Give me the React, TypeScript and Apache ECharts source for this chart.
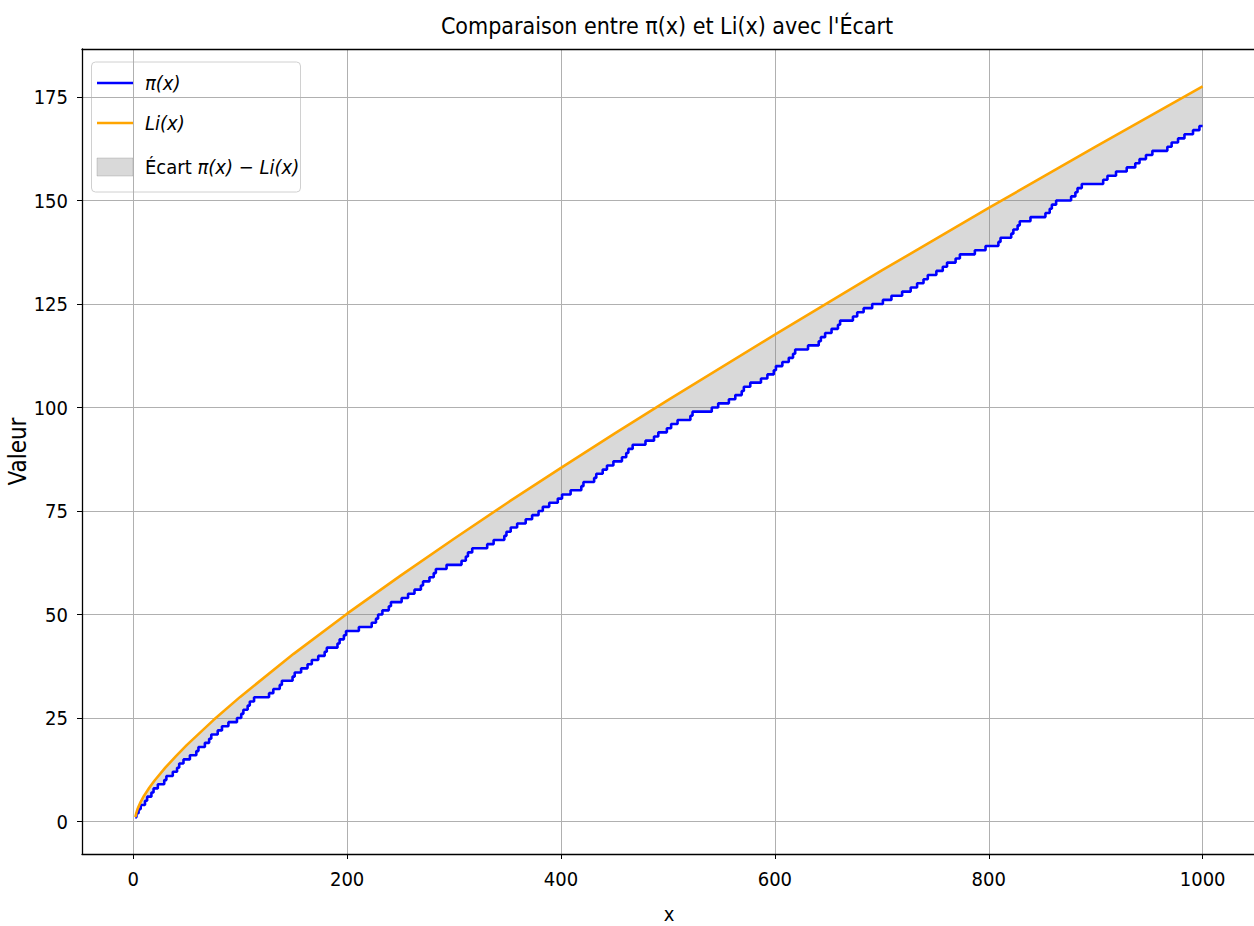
import React, { useEffect, useRef } from "react";
import * as echarts from "echarts";

// Prime numbers up to 1000 — each one is a unit step of π(x)
const PRIMES: number[] = [
  2, 3, 5, 7, 11, 13, 17, 19, 23, 29, 31, 37, 41, 43, 47, 53, 59, 61, 67, 71, 73, 79, 83, 89, 97,
  101, 103, 107, 109, 113, 127, 131, 137, 139, 149, 151, 157, 163, 167, 173, 179, 181, 191, 193, 197, 199,
  211, 223, 227, 229, 233, 239, 241, 251, 257, 263, 269, 271, 277, 281, 283, 293,
  307, 311, 313, 317, 331, 337, 347, 349, 353, 359, 367, 373, 379, 383, 389, 397,
  401, 409, 419, 421, 431, 433, 439, 443, 449, 457, 461, 463, 467, 479, 487, 491, 499,
  503, 509, 521, 523, 541, 547, 557, 563, 569, 571, 577, 587, 593, 599,
  601, 607, 613, 617, 619, 631, 641, 643, 647, 653, 659, 661, 673, 677, 683, 691,
  701, 709, 719, 727, 733, 739, 743, 751, 757, 761, 769, 773, 787, 797,
  809, 811, 821, 823, 827, 829, 839, 853, 857, 859, 863, 877, 881, 883, 887,
  907, 911, 919, 929, 937, 941, 947, 953, 967, 971, 977, 983, 991, 997,
];
const X_END = 1000;

// Li(x)
const LI_X: number[] = [2, 3, 4, 5, 7, 10, 15, 20, 30, 40, 50, 75, 100, 150, 200, 250, 300, 350, 400, 450, 500, 600, 700, 800, 900, 1000];
const LI_Y: number[] = [1.05, 2.16, 2.97, 3.63, 4.76, 6.17, 8.16, 9.9, 13.0, 15.8, 18.45, 24.5, 30.1, 40.5, 50.2, 59.4, 68.3, 77.0, 85.4, 93.7, 101.8, 117.6, 133.1, 148.2, 163.0, 177.6];

const X_TICKS: number[] = [0, 200, 400, 600, 800, 1000];
const Y_TICKS: number[] = [0, 25, 50, 75, 100, 125, 150, 175];

const TITLE = "Comparaison entre π(x) et Li(x) avec l'Écart";
const X_NAME = "x";
const Y_NAME = "Valeur";
const PI_NAME = "π(x)";
const LI_NAME = "Li(x)";
const GAP_NAME = "Écart π(x) − Li(x)";

const FONT = "'DejaVu Sans Condensed', 'DejaVu Sans', sans-serif";

export default function App() {
  const ref = useRef<HTMLDivElement>(null);

  useEffect(() => {
    if (!ref.current) return;
    const chart = echarts.init(ref.current, undefined, { renderer: "svg" });

    const piData: number[][] = PRIMES.map((p, i) => [p, i + 1]);
    piData.push([X_END, PRIMES.length]);
    const liData: number[][] = LI_X.map((x, i) => [x, LI_Y[i]]);

    const option: any = {
      animation: false,
      backgroundColor: "#ffffff",
      textStyle: { fontFamily: FONT },
      title: {
        text: TITLE,
        left: 662,
        top: 9,
        textAlign: "center",
        textStyle: { fontFamily: FONT, fontSize: 23, fontWeight: "normal", color: "#000" },
      },
      grid: { left: 82, top: 49, width: 1174, height: 805, containLabel: false, outerBoundsMode: "none" },
      xAxis: [
        {
          type: "value",
          min: -47.9,
          max: 1049.9,
          name: X_NAME,
          nameLocation: "middle",
          nameGap: 50,
          nameTextStyle: { fontFamily: FONT, fontSize: 20, color: "#000" },
          axisLine: { show: true, onZero: false, lineStyle: { color: "#000", width: 1.3 } },
          axisTick: { show: true, length: 5, lineStyle: { color: "#000", width: 1 }, customValues: X_TICKS },
          axisLabel: { fontFamily: FONT, fontSize: 20, color: "#000", margin: 15, customValues: X_TICKS, formatter: (v: number) => String(v) },
          splitLine: { show: true, lineStyle: { color: "#b0b0b0", width: 1 } },
        },
        {
          type: "value",
          position: "top",
          min: -47.9,
          max: 1049.9,
          axisLine: { show: true, onZero: false, lineStyle: { color: "#000", width: 1.3 } },
          axisTick: { show: false },
          axisLabel: { show: false },
          splitLine: { show: false },
        },
      ],
      yAxis: {
        type: "value",
        min: -7.85,
        max: 186.6,
        name: Y_NAME,
        nameLocation: "middle",
        nameGap: 52,
        nameMoveOverlap: false,
        nameTextStyle: { fontFamily: FONT, fontSize: 24, color: "#000" },
        axisLine: { show: true, onZero: false, lineStyle: { color: "#000", width: 1.3 } },
        axisTick: { show: true, length: 5, lineStyle: { color: "#000", width: 1 }, customValues: Y_TICKS },
        axisLabel: { fontFamily: FONT, fontSize: 20, color: "#000", margin: 14, customValues: Y_TICKS, formatter: (v: number) => String(v) },
        splitLine: { show: true, lineStyle: { color: "#b0b0b0", width: 1 } },
      },
      series: [
        {
          name: GAP_NAME,
          type: "custom",
          clip: true,
          z: 1,
          data: [[LI_X[0], LI_Y[0]]],
          renderItem: (_params: any, api: any) => {
            const pts: number[][] = [];
            liData.forEach((d) => pts.push(api.coord(d)));
            for (let i = piData.length - 1; i >= 0; i--) {
              const [x, y] = piData[i];
              const prevX = i > 0 ? piData[i - 1][0] : x;
              pts.push(api.coord([x, y]));
              if (i > 0 && i < piData.length - 1) pts.push(api.coord([x, piData[i - 1][1]]));
              if (i > 0) pts.push(api.coord([prevX, piData[i - 1][1]]));
            }
            return {
              type: "polygon",
              shape: { points: pts },
              style: { fill: "rgba(128,128,128,0.3)", stroke: "none" },
            };
          },
        },
        {
          name: PI_NAME,
          type: "line",
          step: "end",
          data: piData,
          symbol: "none",
          z: 3,
          lineStyle: { color: "#0000ff", width: 2.6 },
          itemStyle: { color: "#0000ff" },
        },
        {
          name: LI_NAME,
          type: "line",
          data: liData,
          symbol: "none",
          z: 4,
          lineStyle: { color: "#ffa500", width: 2.6 },
          itemStyle: { color: "#ffa500" },
        },
      ],
      graphic: [
        {
          type: "group",
          z: 100,
          children: [
            {
              type: "rect",
              shape: { x: 91.5, y: 62, width: 209, height: 130, r: 4 },
              style: { fill: "rgba(255,255,255,0.8)", stroke: "#d0d0d0", lineWidth: 1 },
            },
            { type: "line", shape: { x1: 97, y1: 83, x2: 133, y2: 83 }, style: { stroke: "#0000ff", lineWidth: 2.6 } },
            { type: "line", shape: { x1: 97, y1: 123, x2: 133, y2: 123 }, style: { stroke: "#ffa500", lineWidth: 2.6 } },
            {
              type: "rect",
              shape: { x: 97, y: 158, width: 36, height: 18 },
              style: { fill: "rgba(128,128,128,0.3)", stroke: "rgba(128,128,128,0.3)", lineWidth: 1 },
            },
            {
              type: "text",
              x: 145,
              y: 83,
              style: { text: "{i|" + PI_NAME + "}", verticalAlign: "middle", fill: "#000", rich: { i: { fontFamily: FONT, fontSize: 20, fontStyle: "italic" } } },
            },
            {
              type: "text",
              x: 145,
              y: 123,
              style: { text: "{i|" + LI_NAME + "}", verticalAlign: "middle", fill: "#000", rich: { i: { fontFamily: FONT, fontSize: 20, fontStyle: "italic" } } },
            },
            {
              type: "text",
              x: 145,
              y: 167,
              style: {
                text: "{n|Écart }{i|π(x) − Li(x)}",
                verticalAlign: "middle",
                fill: "#000",
                rich: {
                  n: { fontFamily: FONT, fontSize: 20 },
                  i: { fontFamily: FONT, fontSize: 20, fontStyle: "italic" },
                },
              },
            },
          ],
        },
      ],
    };

    chart.setOption(option);
    return () => chart.dispose();
  }, []);

  return <div ref={ref} style={{ position: "fixed", left: 0, top: 0, width: 1254, height: 926 }} />;
}
